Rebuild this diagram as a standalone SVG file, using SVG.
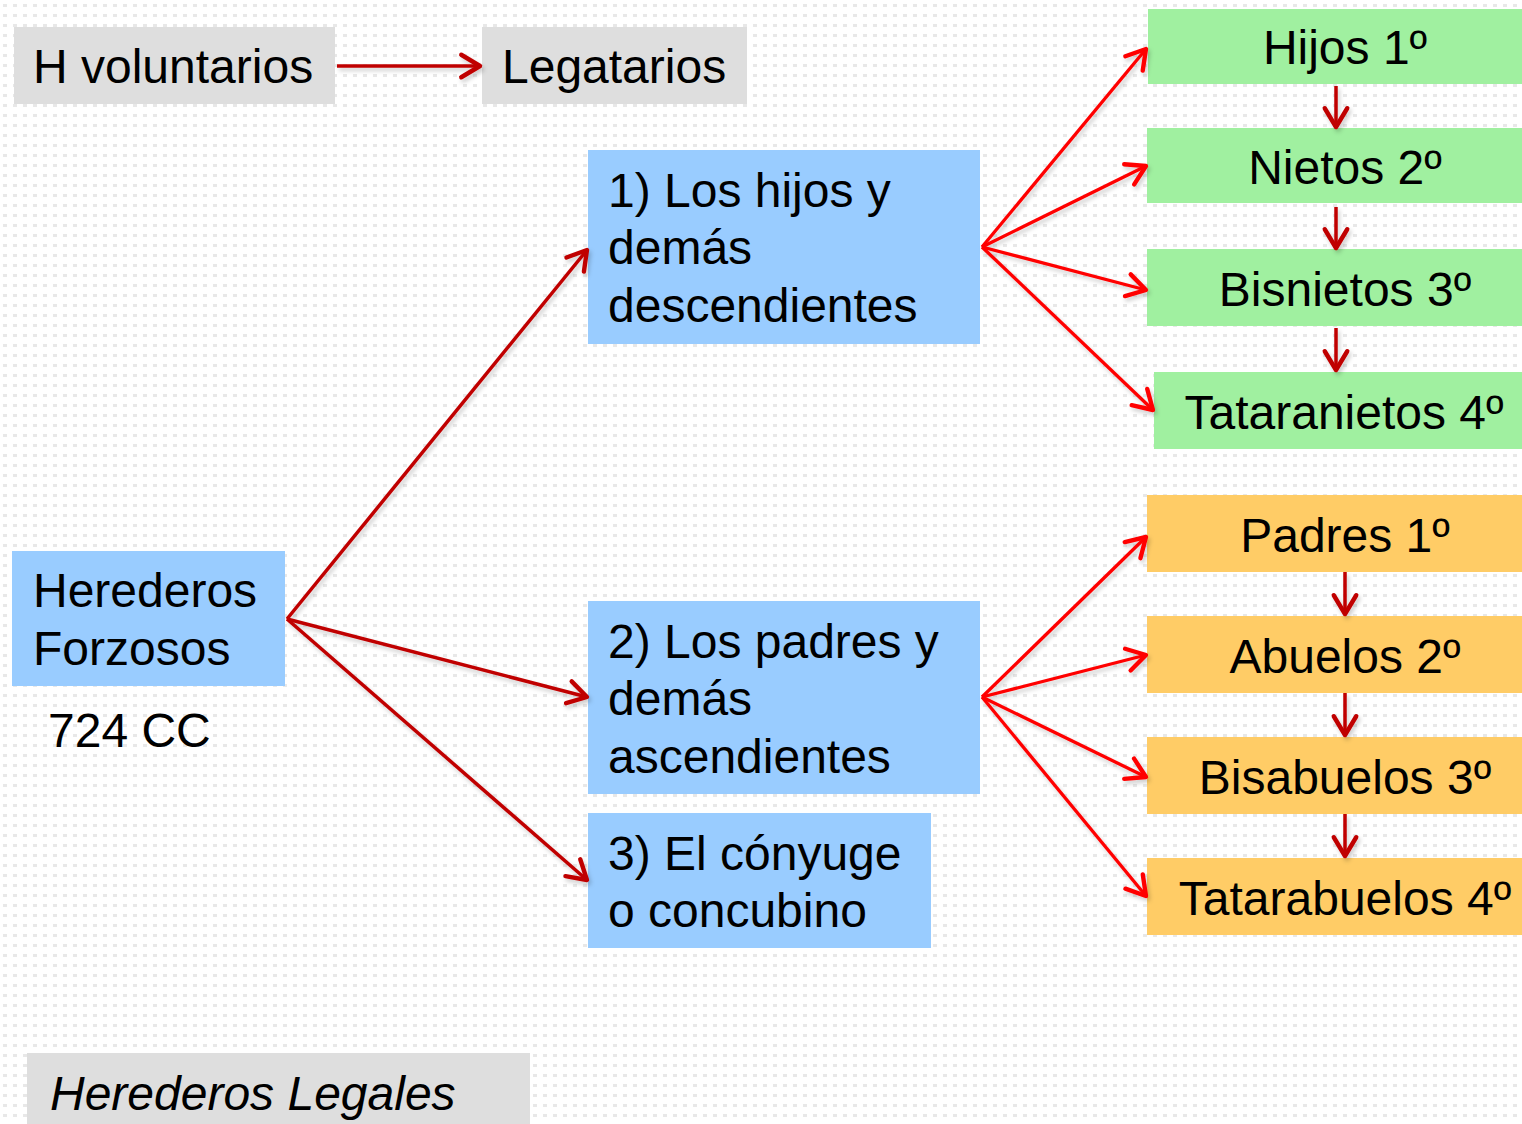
<svg xmlns="http://www.w3.org/2000/svg" width="1522" height="1124" viewBox="0 0 1522 1124">
<defs>
<pattern id="dots" x="0" y="0" width="10" height="10" patternUnits="userSpaceOnUse">
<rect x="3" y="4" width="4" height="3" fill="#e8e8e8"/>
</pattern>
<marker id="mDark" markerUnits="userSpaceOnUse" markerWidth="30" markerHeight="30" viewBox="-20 -12 24 24" refX="0" refY="0" orient="auto">
<path d="M -15 -9 L 0 0 L -15 9" fill="none" stroke="#C00000" stroke-width="3.5" stroke-linecap="round" stroke-linejoin="round"/>
</marker>
<marker id="mRed" markerUnits="userSpaceOnUse" markerWidth="30" markerHeight="30" viewBox="-20 -12 24 24" refX="0" refY="0" orient="auto">
<path d="M -15 -9 L 0 0 L -15 9" fill="none" stroke="#FF0000" stroke-width="3.5" stroke-linecap="round" stroke-linejoin="round"/>
</marker>
<filter id="sh" x="-10%" y="-10%" width="120%" height="120%">
<feDropShadow dx="2" dy="3" stdDeviation="2" flood-color="#000" flood-opacity="0.2"/>
</filter>
</defs>
<style>
text { font-family: "Liberation Sans", Arial, sans-serif; font-size: 48px; fill: #000; }
.mid { text-anchor: middle; }
.gray { fill: #DEDEDE; }
.blue { fill: #99CCFF; }
.green { fill: #A0F0A0; }
.orange { fill: #FFCC66; }
.dk { stroke: #C00000; stroke-width: 3.5; fill: none; marker-end: url(#mDark); }
.rd { stroke: #FF0000; stroke-width: 3.3; fill: none; marker-end: url(#mRed); }
</style>
<rect x="0" y="0" width="1522" height="1124" fill="#ffffff"/>
<rect x="0" y="0" width="1522" height="1124" fill="url(#dots)"/>

<g id="hvoluntarios"><rect class="gray" x="14" y="27" width="321" height="77"/><text x="33" y="83">H voluntarios</text></g>
<g id="legatarios"><rect class="gray" x="482" y="27" width="265" height="77"/><text x="502" y="83">Legatarios</text></g>
<g id="forzosos"><rect class="blue" x="12" y="551" width="273" height="135"/><text x="33" y="607">Herederos</text><text x="33" y="665">Forzosos</text></g>
<g id="cc"><text x="48" y="747">724 CC</text></g>
<g id="descendientes"><rect class="blue" x="588" y="150" width="392" height="194"/><text x="608" y="207">1) Los hijos y</text><text x="608" y="264">demás</text><text x="608" y="322">descendientes</text></g>
<g id="ascendientes"><rect class="blue" x="588" y="601" width="392" height="193"/><text x="608" y="658">2) Los padres y</text><text x="608" y="715">demás</text><text x="608" y="773">ascendientes</text></g>
<g id="conyuge"><rect class="blue" x="588" y="813" width="343" height="135"/><text x="608" y="870">3) El cónyuge</text><text x="608" y="927">o concubino</text></g>
<g id="legales"><rect class="gray" x="27" y="1053" width="503" height="80"/><text x="50" y="1110" font-style="italic">Herederos Legales</text></g>

<g id="hijos"><rect class="green" x="1148" y="9" width="374" height="75"/><text class="mid" x="1345" y="64">Hijos 1º</text></g>
<g id="nietos"><rect class="green" x="1147" y="128" width="375" height="75"/><text class="mid" x="1345" y="184">Nietos 2º</text></g>
<g id="bisnietos"><rect class="green" x="1147" y="249" width="375" height="77"/><text class="mid" x="1345" y="306">Bisnietos 3º</text></g>
<g id="tataranietos"><rect class="green" x="1154" y="372" width="368" height="77"/><text class="mid" x="1344" y="429">Tataranietos 4º</text></g>

<g id="padres"><rect class="orange" x="1147" y="495" width="375" height="77"/><text class="mid" x="1345" y="552">Padres 1º</text></g>
<g id="abuelos"><rect class="orange" x="1147" y="616" width="375" height="77"/><text class="mid" x="1345" y="673">Abuelos 2º</text></g>
<g id="bisabuelos"><rect class="orange" x="1147" y="737" width="375" height="77"/><text class="mid" x="1345" y="794">Bisabuelos 3º</text></g>
<g id="tatarabuelos"><rect class="orange" x="1147" y="858" width="375" height="77"/><text class="mid" x="1345" y="915">Tatarabuelos 4º</text></g>

<g id="connectors" filter="url(#sh)">
<line class="dk" x1="337" y1="66" x2="480" y2="66"/>
<line class="dk" x1="287" y1="619" x2="587" y2="250"/>
<line class="dk" x1="287" y1="619" x2="587" y2="697"/>
<line class="dk" x1="287" y1="619" x2="587" y2="880"/>
<line class="rd" x1="982" y1="247" x2="1146" y2="49"/>
<line class="rd" x1="982" y1="247" x2="1146" y2="166"/>
<line class="rd" x1="982" y1="247" x2="1146" y2="290"/>
<line class="rd" x1="982" y1="247" x2="1153" y2="410"/>
<line class="rd" x1="982" y1="697" x2="1146" y2="537"/>
<line class="rd" x1="982" y1="697" x2="1146" y2="655"/>
<line class="rd" x1="982" y1="697" x2="1146" y2="777"/>
<line class="rd" x1="982" y1="697" x2="1146" y2="896"/>
<line class="dk" x1="1336" y1="86" x2="1336" y2="127"/>
<line class="dk" x1="1336" y1="207" x2="1336" y2="248"/>
<line class="dk" x1="1336" y1="328" x2="1336" y2="370"/>
<line class="dk" x1="1345" y1="572" x2="1345" y2="614"/>
<line class="dk" x1="1345" y1="693" x2="1345" y2="735"/>
<line class="dk" x1="1345" y1="814" x2="1345" y2="856"/>
</g>
</svg>
